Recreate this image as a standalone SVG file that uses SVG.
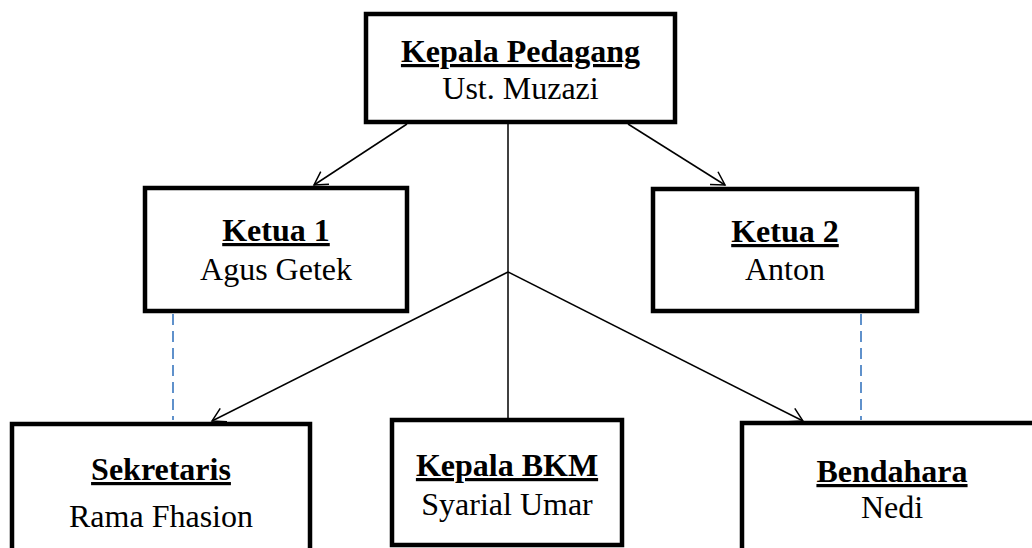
<svg xmlns="http://www.w3.org/2000/svg" width="1032" height="548" viewBox="0 0 1032 548">
<style>
.box{fill:#fff;stroke:#000;stroke-width:4.5}
.t{font-family:"Liberation Serif","Times New Roman",serif;font-size:32px;fill:#000;text-anchor:middle}
.h{font-weight:bold;text-decoration:underline}
.c{stroke:#000;stroke-width:1.5;fill:none}
.d{stroke:#4f86c6;stroke-width:1.8;stroke-dasharray:11 6;fill:none}
</style>
<defs>
<marker id="arr" markerUnits="userSpaceOnUse" markerWidth="30" markerHeight="30" refX="0" refY="0" viewBox="-15 -15 30 30" orient="auto" overflow="visible">
<path d="M-13,-7.5 L0,0 L-13,7.5" fill="none" stroke="#000" stroke-width="1.5"/>
</marker>
</defs>
<rect width="1032" height="548" fill="#fff"/>
<g id="connectors">
<line class="c" x1="407" y1="124" x2="314" y2="185" marker-end="url(#arr)"/>
<line class="c" x1="628" y1="124" x2="725" y2="185" marker-end="url(#arr)"/>
<line class="c" x1="508" y1="124" x2="508" y2="420"/>
<line class="c" x1="508" y1="272" x2="212" y2="421" marker-end="url(#arr)"/>
<line class="c" x1="508" y1="272" x2="803" y2="421" marker-end="url(#arr)"/>
<line class="d" x1="173" y1="314" x2="173" y2="420"/>
<line class="d" x1="861" y1="314" x2="861" y2="420"/>
</g>
<g id="kepala-pedagang">
<rect class="box" x="366" y="14" width="309" height="108"/>
<text class="t h" x="520.5" y="62">Kepala Pedagang</text>
<text class="t" x="520.5" y="99">Ust. Muzazi</text>
</g>
<g id="ketua1">
<rect class="box" x="145" y="188" width="262" height="123"/>
<text class="t h" x="276" y="241">Ketua 1</text>
<text class="t" x="276" y="280">Agus Getek</text>
</g>
<g id="ketua2">
<rect class="box" x="653" y="189" width="264" height="122"/>
<text class="t h" x="785" y="242">Ketua 2</text>
<text class="t" x="785" y="280">Anton</text>
</g>
<g id="sekretaris">
<rect class="box" x="12" y="424" width="298" height="140"/>
<text class="t h" x="161" y="480">Sekretaris</text>
<text class="t" x="161" y="527">Rama Fhasion</text>
</g>
<g id="kepala-bkm">
<rect class="box" x="392" y="420" width="230" height="125"/>
<text class="t h" x="507" y="476">Kepala BKM</text>
<text class="t" x="507" y="515">Syarial Umar</text>
</g>
<g id="bendahara">
<rect class="box" x="742" y="423" width="300" height="140"/>
<text class="t h" x="892" y="482">Bendahara</text>
<text class="t" x="892" y="518">Nedi</text>
</g>
</svg>
